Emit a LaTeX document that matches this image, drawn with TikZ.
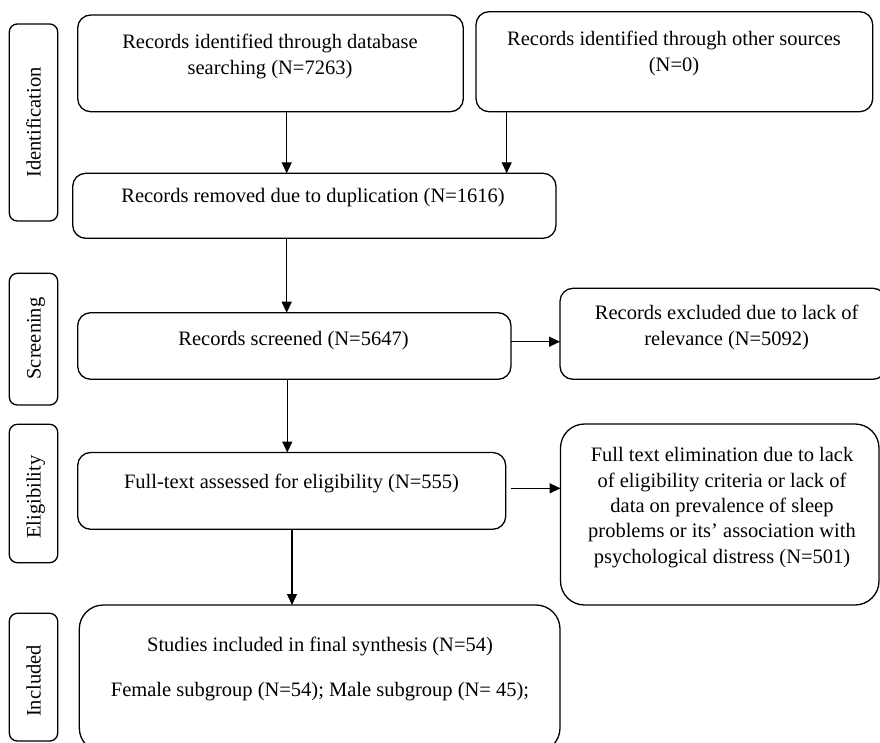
\documentclass[tikz,border=0pt]{standalone}
\usepackage{fontspec}
\setmainfont{Liberation Serif}
\usetikzlibrary{arrows.meta}
\begin{document}
\begin{tikzpicture}[x=1pt,y=-1pt,
  box/.style={draw, line width=1.3pt, inner sep=0pt, outer sep=0pt, rounded corners=13pt},
  bigbox/.style={box, rounded corners=24pt},
  labbox/.style={box, rounded corners=8pt, minimum width=48.4pt},
  txt/.style={font=\fontsize{20.5}{26}\selectfont, align=center, inner sep=0pt, anchor=base},
  lab/.style={font=\fontsize{20.5}{26}\selectfont, rotate=90, inner sep=0pt, anchor=base},
  arr/.style={line width=1.3pt, -{Triangle[width=10pt,length=11pt]}}]
\clip (0,0) rectangle (880,743);
% stage labels
\node[labbox, minimum height=197pt]   (l1) at (33.5,122.5) {};
\node[labbox, minimum height=131.7pt] (l2) at (33.5,339.15) {};
\node[labbox, minimum height=138.4pt] (l3) at (33.5,493.5) {};
\node[labbox, minimum height=127.7pt] (l4) at (33.5,677.15) {};
\node[lab] (tl1) at (40.5,122.5) {Identification};
\node[lab] (tl2) at (40.5,338.5) {Screening};
\node[lab] (tl3) at (40.5,497) {Eligibility};
\node[lab] (tl4) at (40.5,681) {Included};
% boxes
\node[box, minimum width=385.6pt, minimum height=96.7pt] (b1) at (270.5,63.35) {};
\node[box, minimum width=396.7pt, minimum height=100pt]  (b2) at (674.35,61.7) {};
\node[box, minimum width=483.3pt, minimum height=65pt]   (b3) at (314.35,205.8) {};
\node[box, minimum width=433.3pt, minimum height=66.6pt] (b4) at (294.35,346) {};
\node[box, minimum width=326pt,   minimum height=91pt]   (b5) at (723,333.8) {};
\node[box, minimum width=428pt,   minimum height=76.8pt] (b6) at (291.7,490.9) {};
\node[bigbox, minimum width=318.5pt, minimum height=181pt] (b7) at (719.75,514.5) {};
\node[bigbox, minimum width=480.7pt, minimum height=147pt] (b8) at (319.65,678.5) {};
% texts (anchor = baseline of the last line)
\node[txt] (t1) at (270,75) {Records identified through database\\searching (N=7263)};
\node[txt] (t2) at (674,72) {Records identified through other sources\\(N=0)};
\node[txt] (t3) at (313,203) {Records removed due to duplication (N=1616)};
\node[txt] (t4) at (293.5,345) {Records screened (N=5647)};
\node[txt] (t5) at (726.7,345) {Records excluded due to lack of\\relevance (N=5092)};
\node[txt] (t6) at (291.5,488) {Full-text assessed for eligibility (N=555)};
\node[txt, font=\fontsize{20.5}{25.4}\selectfont] (t7) at (722,563.3) {Full text elimination due to lack\\of eligibility criteria or lack of\\data on prevalence of sleep\\problems or its’ association with\\psychological distress (N=501)};
\node[txt] (t8) at (320,696) {Studies included in final synthesis (N=54)\\[18.3pt]Female subgroup (N=54); Male subgroup (N= 45);};
% connector positions
\coordinate (x1) at (286.7,0);
\coordinate (x2) at (506.7,0);
\coordinate (x3) at (286.7,0);
\coordinate (x4) at (287.3,0);
\coordinate (x7) at (292,0);
\coordinate (y5) at (0,341.7);
\coordinate (y6) at (0,488.3);
\coordinate (s6) at ([xshift=5pt]b6.east);
% connectors
\draw[arr] (b1.south -| x1) -- (b3.north -| x1);
\draw[arr] (b2.south -| x2) -- (b3.north -| x2);
\draw[arr] (b3.south -| x3) -- (b4.north -| x3);
\draw[arr] (b4.south -| x4) -- (b6.north -| x4);
\draw[arr] (b6.south -| x7) -- (b8.north -| x7);
\draw[arr] (b4.east |- y5) -- (b5.west |- y5);
\draw[arr] (s6 |- y6) -- (b7.west |- y6);
\end{tikzpicture}
\end{document}
